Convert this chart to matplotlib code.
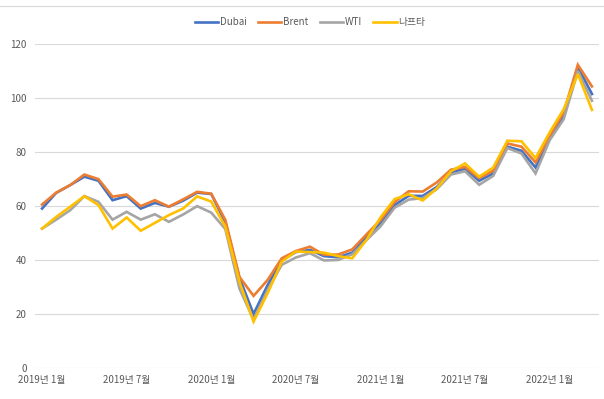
import matplotlib
matplotlib.use("Agg")
import matplotlib.pyplot as plt
from matplotlib.lines import Line2D

plt.rcParams['font.family'] = ['Noto Sans CJK KR', 'DejaVu Sans']

months = [f"{y}년 {m}월" for y in (2019, 2020, 2021, 2022) for m in range(1, 13)][:40]
tick_labels = ["2019년 1월", "2019년 7월", "2020년 1월", "2020년 7월",
               "2021년 1월", "2021년 7월", "2022년 1월"]

dubai = [59.1, 64.9, 67.8, 70.9, 69.4, 62.2, 63.7, 59.1, 61.2, 59.8, 62.0, 65.0,
         64.5, 54.0, 33.5, 20.1, 30.8, 40.0, 43.0, 43.8, 41.5, 41.1, 42.8, 48.5,
         53.8, 60.4, 63.8, 63.8, 67.1, 72.5, 73.8, 69.4, 72.1, 82.0, 80.5, 74.3,
         85.4, 93.5, 111.4, 101.5]
brent = [60.6, 65.0, 67.8, 71.7, 70.0, 63.5, 64.3, 60.0, 62.2, 59.8, 62.5, 65.3,
         64.6, 54.9, 33.8, 26.8, 32.7, 40.7, 43.4, 45.0, 42.0, 42.1, 44.0, 49.5,
         54.8, 61.5, 65.5, 65.4, 68.8, 73.5, 74.5, 70.4, 73.1, 83.2, 82.0, 76.2,
         86.0, 94.7, 112.3, 104.3]
wti = [51.7, 55.0, 58.5, 63.7, 61.6, 55.0, 57.9, 55.0, 57.0, 54.2, 56.9, 60.0,
       57.6, 51.5, 29.5, 18.0, 29.0, 38.3, 41.0, 42.6, 39.9, 40.1, 42.2, 47.4,
       52.5, 59.4, 62.4, 63.0, 66.3, 71.7, 72.9, 67.9, 71.2, 81.5, 79.5, 72.1,
       84.4, 92.2, 110.0, 99.0]
naphtha = [51.7, 56.0, 59.8, 63.7, 60.4, 51.7, 55.8, 50.9, 53.8, 56.7, 59.1, 63.6,
           61.7, 52.4, 32.0, 17.3, 27.8, 39.5, 43.2, 43.0, 42.8, 41.5, 40.7, 47.5,
           55.8, 62.6, 64.4, 62.1, 66.6, 72.9, 75.8, 70.9, 74.3, 84.2, 84.0, 77.8,
           87.3, 95.9, 108.9, 95.6]

series = [("Dubai", dubai, "#4472C4"), ("Brent", brent, "#ED7D31"),
          ("WTI", wti, "#A5A5A5"), ("나프타", naphtha, "#FFC000")]

W, H = 604, 399
fig = plt.figure(figsize=(W / 100, H / 100), dpi=100)
ax = fig.add_axes([35 / W, (H - 368.3) / H, 564 / W, 324.3 / H])

x = list(range(len(months)))
for name, vals, col in series:
    ax.plot(x, vals, color=col, lw=1.9, label=name, solid_joinstyle='miter')

ax.set_xlim(-0.5, len(months) - 0.5)
ax.set_ylim(0, 120)
ax.set_yticks(range(0, 121, 20))
ax.set_xticks([months.index(t) for t in tick_labels])
ax.set_xticklabels(tick_labels)
ax.grid(axis='y', color='#D9D9D9', lw=0.8)
ax.set_axisbelow(True)
for s in ax.spines.values():
    s.set_visible(False)
ax.tick_params(axis='both', length=0, labelsize=7, colors='#595959')
ax.tick_params(axis='y', pad=6)
ax.tick_params(axis='x', pad=5)

fig.legend(loc='center', bbox_to_anchor=(310 / W, 1 - 22 / H), ncol=4, frameon=False,
           fontsize=7, handlelength=2.4, handletextpad=0.15, columnspacing=1.2,
           labelcolor='#595959')

fig.add_artist(Line2D([0, 1], [1 - 6 / H] * 2, color='#D9D9D9', lw=0.8))

fig.savefig("out.png", dpi=100)
